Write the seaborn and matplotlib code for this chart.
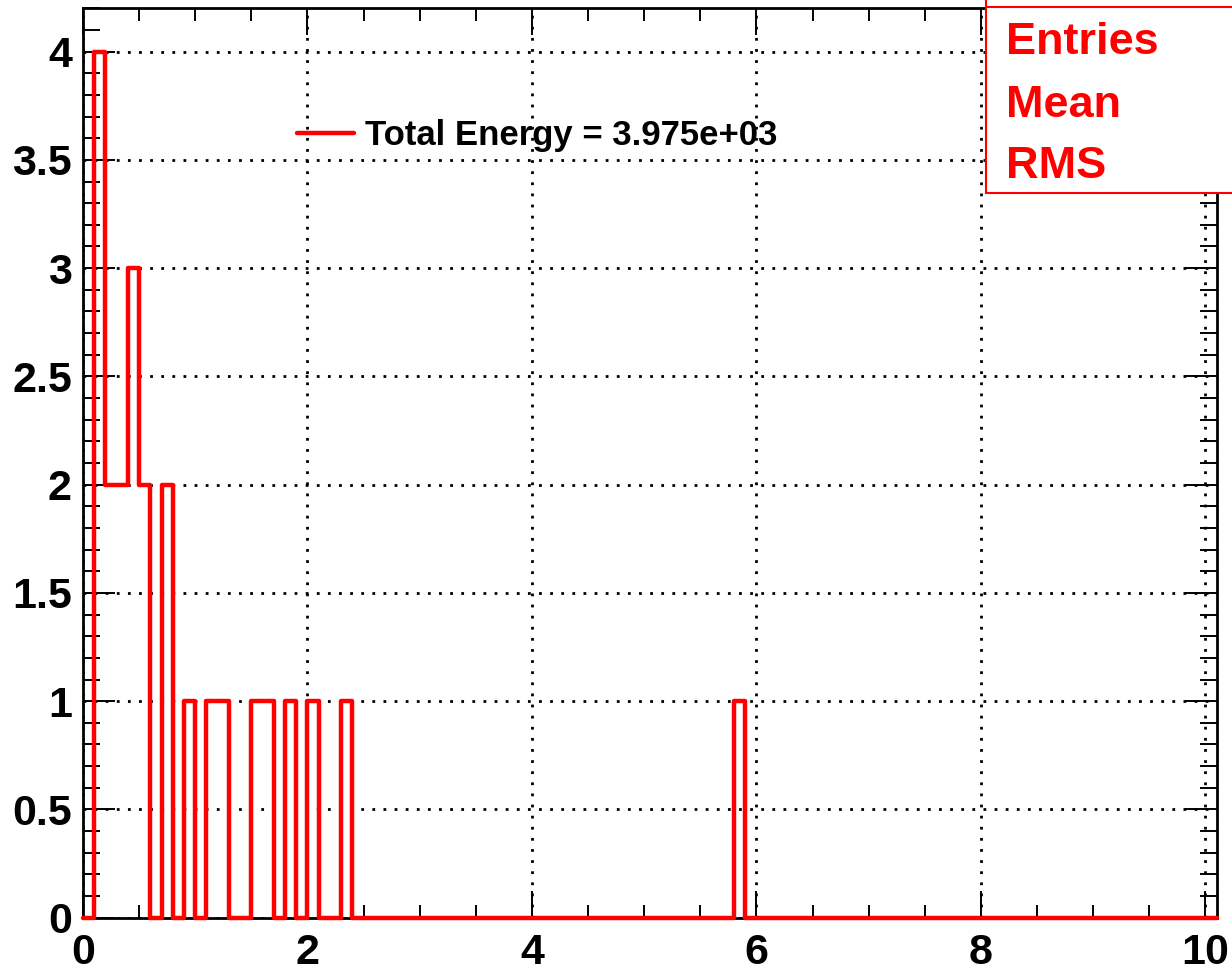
import numpy as np
import pandas as pd
import matplotlib.pyplot as plt
import seaborn as sns
from matplotlib.ticker import MultipleLocator
from matplotlib.patches import Rectangle
from matplotlib.lines import Line2D

# histogram with 0.1 wide bins on [0, 10.1], only non-empty bins listed
bin_low = [0.1, 0.2, 0.3, 0.4, 0.5, 0.7, 0.9, 1.1, 1.2, 1.5, 1.6, 1.8, 2.0, 2.3, 5.8]
bin_count = [4, 2, 2, 3, 2, 2, 1, 1, 1, 1, 1, 1, 1, 1, 1]
legend_label = "Total Energy = 3.975e+03"
stat_names = ["Entries", "Mean", "RMS"]
x_ticks = [0, 2, 4, 6, 8, 10]
y_ticks = [0, 0.5, 1, 1.5, 2, 2.5, 3, 3.5, 4]

sns.set_style("white")
plt.rcParams['font.family'] = ['Liberation Sans', 'DejaVu Sans']
plt.rcParams['text.color'] = 'black'

df = pd.DataFrame({"energy": np.array(bin_low) + 0.05, "count": bin_count})
edges = [round(i * 0.1, 1) for i in range(102)]

fig = plt.figure(figsize=(12.32, 9.75), dpi=100)
ax = fig.add_axes([83 / 1232, 1 - 917.7 / 975, (1216.7 - 83) / 1232, (917.7 - 8.3) / 975])

sns.histplot(data=df, x="energy", weights="count", bins=edges, element="step", fill=False,
             color="red", linewidth=3.2, label=legend_label, ax=ax, clip_on=False, zorder=3)

ax.set_xlim(0, 10.1)
ax.set_ylim(0, 4.2)
ax.set_xlabel("")
ax.set_ylabel("")
ax.set_xticks(x_ticks)
ax.set_yticks(y_ticks)
ax.set_xticklabels([str(t) for t in x_ticks])
ax.set_yticklabels([f"{t:g}" for t in y_ticks])
ax.xaxis.set_minor_locator(MultipleLocator(0.5))
ax.yaxis.set_minor_locator(MultipleLocator(0.1))

ax.tick_params(axis="both", which="both", direction="in", top=True, right=True,
               bottom=True, left=True, colors="black")
ax.tick_params(axis="x", which="major", length=19.5, width=1.4, labelsize=31, pad=11)
ax.tick_params(axis="x", which="minor", length=9.5, width=1.4)
ax.tick_params(axis="y", which="major", length=23, width=1.4, labelsize=31, pad=8)
ax.tick_params(axis="y", which="minor", length=12, width=1.4)
for lab in ax.get_xticklabels() + ax.get_yticklabels():
    lab.set_fontweight("bold")

for sp in ax.spines.values():
    sp.set_color("black")
    sp.set_linewidth(2)
    sp.set_visible(True)

ax.grid(True, which="major", color="black", linestyle=(0, (1, 3)), linewidth=2)
ax.set_axisbelow(True)

leg = ax.legend(loc="center left", bbox_to_anchor=(297 / 1232, 1 - 135.7 / 975), bbox_transform=fig.transFigure,
                frameon=False, borderpad=0, borderaxespad=0, handlelength=1.65, handletextpad=0.3,
                prop={"weight": "bold", "size": 25})
for t in leg.get_texts():
    t.set_color("black")

# stats box, cut by the top right corner of the canvas
fig.add_artist(Rectangle((986 / 1232, 1 - 193 / 975), 1, 1, transform=fig.transFigure,
                         facecolor="white", edgecolor="red", linewidth=1.5, zorder=10))
fig.add_artist(Line2D([986 / 1232, 1], [1 - 7 / 975, 1 - 7 / 975], transform=fig.transFigure,
                      color="red", linewidth=1.5, zorder=11))
for name, base in zip(stat_names, [54, 117, 178]):
    fig.text(1006 / 1232, 1 - base / 975, name, color="red", fontweight="bold", fontsize=32.5,
             va="baseline", zorder=12)

fig.savefig("out.png", dpi=100)
